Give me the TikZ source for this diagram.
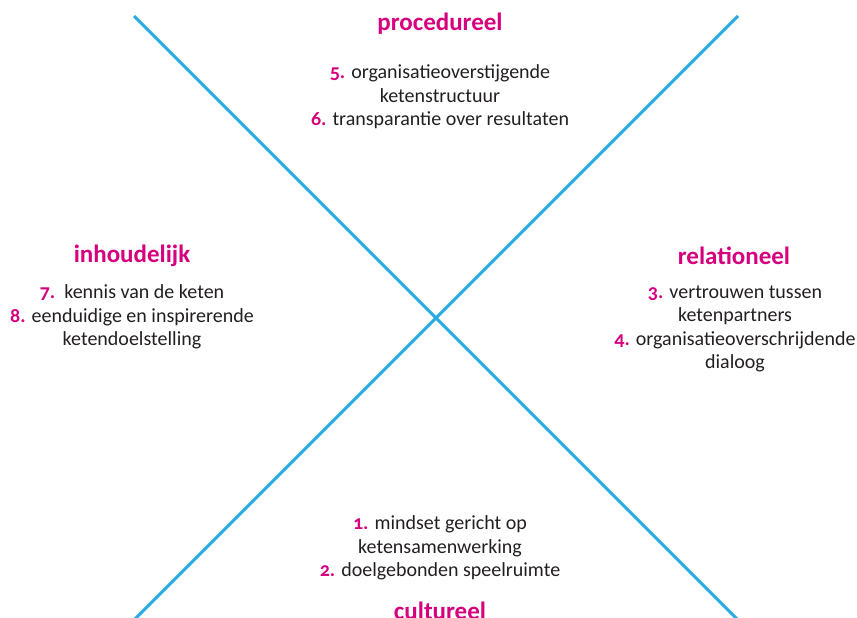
\documentclass[tikz,border=0pt]{standalone}
\usepackage{fontspec}
\setmainfont{Carlito}
\newfontfamily\oldnum[Numbers=OldStyle]{Carlito}
\usepackage{tikz}
\definecolor{kruis}{RGB}{41,170,226}
\definecolor{roze}{RGB}{214,0,126}
\definecolor{tekst}{RGB}{35,31,32}
\newcommand{\nr}[1]{{\color{roze}\bfseries\oldnum #1}}
\tikzset{kop/.style={text=roze, font=\fontsize{25}{28}\selectfont\bfseries},
  blok/.style={text=tekst, align=center, font=\fontsize{20}{23.5}\selectfont}}

\begin{document}
\begin{tikzpicture}[x=1pt,y=-1pt]
\useasboundingbox (0,0) rectangle (857,618);
\coordinate (lb) at (134,16);
\coordinate (ro) at (740,622);
\coordinate (rb) at (738,16);
\coordinate (lo) at (132,622);
\draw[kruis, line width=3pt] (lb)--(ro);
\draw[kruis, line width=3pt] (rb)--(lo);

\node[kop] (proc) at (440,24) {procedureel};
\node[blok] (procb) at (440,97) {\nr{5.} organisatieoverstijgende\\ketenstructuur\\\nr{6.} transparantie over resultaten};

\node[kop] (inh) at (132,256) {inhoudelijk};
\node[blok] (inhb) at (132,317) {\nr{7.}\ \ kennis van de keten\\\nr{8.} eenduidige en inspirerende\\ketendoelstelling};

\node[kop] (rel) at (734,256) {relationeel};
\node[blok] (relb) at (735,329) {\nr{3.} vertrouwen tussen\\ketenpartners\\\nr{4.} organisatieoverschrijdende\\dialoog};

\node[blok] (cultb) at (440,548) {\nr{1.} mindset gericht op\\ketensamenwerking\\\nr{2.} doelgebonden speelruimte};
\node[kop] (cult) at (440,611) {cultureel};
\end{tikzpicture}
\end{document}
